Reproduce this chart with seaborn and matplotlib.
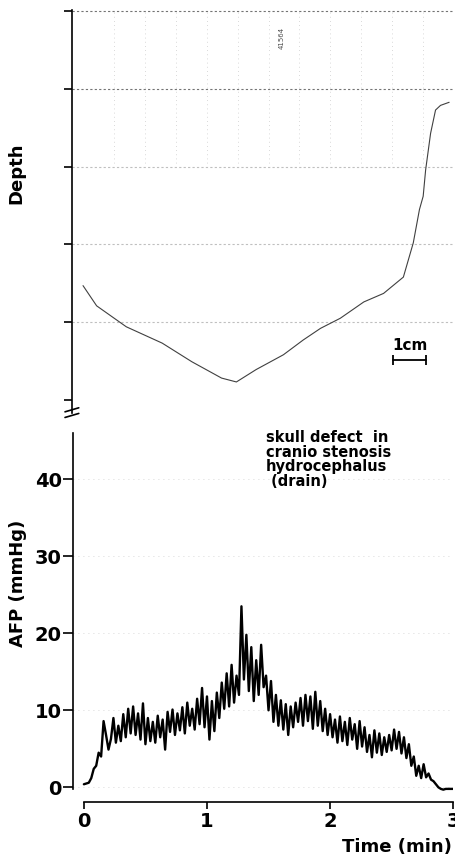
import numpy as np
import pandas as pd
import matplotlib.pyplot as plt
import seaborn as sns

# upper panel: depth trace (one tick = one unit)
depth_time = [0.0, 0.11, 0.35, 0.64, 0.88, 1.12, 1.24, 1.40, 1.62, 1.78, 1.92, 2.08,
              2.27, 2.43, 2.59, 2.67, 2.72, 2.75, 2.77, 2.81, 2.85, 2.89, 2.96]
depth_value = [1.47, 1.21, 0.94, 0.73, 0.49, 0.28, 0.23, 0.39, 0.58, 0.77, 0.92, 1.05,
               1.26, 1.37, 1.58, 2.02, 2.45, 2.62, 2.96, 3.43, 3.73, 3.79, 3.83]

# lower panel: AFP (mmHg), one reading every 0.02 min
afp_value = [0.4, 0.5, 0.6, 1.2, 2.4, 2.8, 4.5, 4.0, 8.6, 6.8,
             4.9, 6.3, 9.0, 5.8, 8.0, 6.0, 9.5, 6.5, 10.2, 7.0,
             10.5, 6.8, 9.6, 6.2, 10.9, 5.6, 9.0, 6.0, 8.5, 5.8,
             9.3, 6.5, 8.8, 4.9, 9.8, 7.2, 10.1, 6.8, 9.6, 7.4,
             10.4, 7.0, 11.0, 8.0, 10.2, 7.5, 11.5, 8.2, 12.9, 7.8,
             11.8, 6.2, 11.2, 7.3, 12.3, 9.0, 13.6, 10.2, 14.8, 10.5,
             15.9, 11.0, 14.5, 12.0, 23.5, 14.0, 19.8, 12.5, 18.2, 11.2,
             16.5, 12.0, 18.5, 13.0, 14.5, 10.0, 13.8, 8.5, 12.0, 8.0,
             11.3, 7.5, 10.8, 6.8, 10.5, 7.8, 11.0, 8.5, 11.6, 8.0,
             12.0, 8.6, 11.8, 7.6, 12.4, 8.0, 11.2, 7.3, 10.2, 6.8,
             9.5, 6.5, 8.8, 5.8, 9.2, 6.0, 8.5, 5.5, 9.0, 6.2,
             8.2, 5.0, 8.6, 5.3, 7.8, 4.6, 6.8, 3.9, 7.4, 4.5,
             7.0, 4.2, 6.5, 4.6, 6.8, 4.8, 7.5, 5.0, 7.2, 4.4,
             6.5, 3.8, 5.6, 2.8, 4.0, 1.5, 2.8, 1.2, 3.0, 1.3,
             1.8, 1.0, 0.8, 0.4, 0.0, -0.2, -0.3, -0.2, -0.2, -0.2,
             -0.2]
afp_time = np.linspace(0, 3, len(afp_value))

afp_ticks = [0, 10, 20, 30, 40]
time_ticks = [0, 1, 2, 3]
note = "skull defect  in\ncranio stenosis\nhydrocephalus\n (drain)"

sns.set_style("white")
plt.rcParams['font.family'] = ['DejaVu Sans']
plt.rcParams['text.color'] = 'black'
plt.rcParams['xtick.color'] = 'black'
plt.rcParams['ytick.color'] = 'black'

fig = plt.figure(figsize=(4.55, 8.63), dpi=100)
ax1 = fig.add_axes([0.158, 0.5214, 0.84, 0.4672])
ax2 = fig.add_axes([0.160, 0.0707, 0.836, 0.4276])

# ---- depth panel
ax1.set_xlim(-0.09, 3.0)
ax1.set_ylim(-0.17, 5.02)
for v in [5, 4, 3, 2, 1]:
    ax1.axhline(v, color='0.45' if v >= 4 else '0.75', lw=0.8, ls=(0, (2, 2)), zorder=0)
for t in np.arange(0.25, 3.0, 0.25):
    ax1.axvline(t, ymin=0.62, color='0.8', lw=0.6, ls=(0, (1, 4)), zorder=0)
sns.lineplot(x=depth_time, y=depth_value, ax=ax1, color='0.25', lw=0.8)
ax1.set_yticks(range(6))
ax1.set_yticklabels([])
ax1.set_xticks([])
ax1.tick_params(axis='y', left=True, length=6, width=1.2, direction='out')
for s in ['top', 'right', 'bottom']:
    ax1.spines[s].set_visible(False)
ax1.spines['left'].set_color('black')
ax1.spines['left'].set_linewidth(1.2)
# break marks
for dy in [-0.006, 0.008]:
    ax1.plot([-0.018, 0.018], [dy - 0.005, dy + 0.005], transform=ax1.transAxes,
             color='black', lw=1.2, clip_on=False)
# 1cm scale bar
ax1.plot([2.51, 2.77], [0.51, 0.51], color='black', lw=1.3)
ax1.plot([2.51, 2.77], [0.51, 0.51], ls='none', marker='|', ms=7, mew=1.3, color='black')
ax1.text(2.64, 0.6, "1cm", ha='center', va='bottom', fontsize=11, fontweight='bold')
ax1.text(1.61, 4.66, "41564", rotation=90, ha='center', va='center', fontsize=5, color='0.3')
ax1.set_xlabel('')
ax1.set_ylabel('')

# ---- AFP panel
ax2.set_xlim(-0.09, 3.0)
ax2.set_ylim(-1.9, 46)
for v in afp_ticks:
    ax2.axhline(v, color='0.8', lw=0.6, ls=(0, (1, 5)), zorder=0)
sns.lineplot(x=afp_time, y=afp_value, ax=ax2, color='black', lw=1.7, estimator=None)
ax2.set_yticks(afp_ticks)
ax2.set_xticks(time_ticks)
ax2.set_yticklabels([str(v) for v in afp_ticks], fontsize=14, fontweight='bold')
ax2.set_xticklabels([str(v) for v in time_ticks], fontsize=14, fontweight='bold')
ax2.tick_params(axis='y', left=True, length=7, width=1.2, pad=1)
ax2.tick_params(axis='x', bottom=True, length=5, width=1.2, pad=2)
for s in ['top', 'right']:
    ax2.spines[s].set_visible(False)
for s in ['left', 'bottom']:
    ax2.spines[s].set_color('black')
    ax2.spines[s].set_linewidth(1.2)
ax2.spines['left'].set_bounds(-0.2, 46)
ax2.spines['bottom'].set_bounds(0, 3)
ax2.set_xlabel('')
ax2.set_ylabel('')
ax2.text(1.48, 46.4, note, ha='left', va='top', fontsize=10.5, fontweight='bold',
         linespacing=0.98)

fig.text(16 / 455, 1 - 173 / 863, "Depth", rotation=90, ha='center', va='center',
         fontsize=13, fontweight='bold')
fig.text(18 / 455, 1 - 583 / 863, "AFP (mmHg)", rotation=90, ha='center', va='center',
         fontsize=13, fontweight='bold')
fig.text(452 / 455, 1 - 847 / 863, "Time (min)", ha='right', va='center',
         fontsize=13, fontweight='bold')

fig.savefig("out.png", dpi=100)
